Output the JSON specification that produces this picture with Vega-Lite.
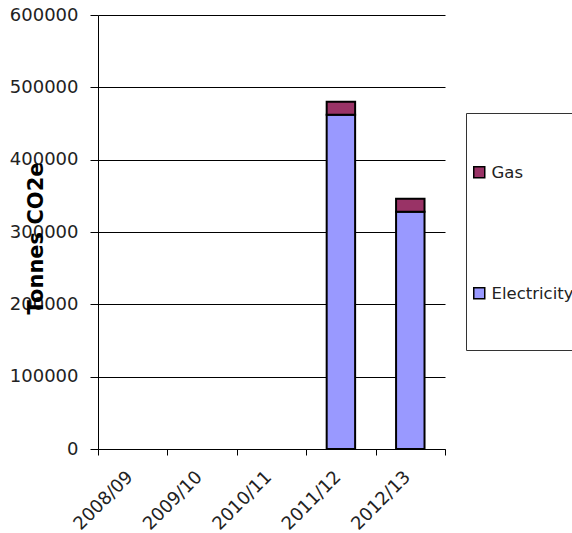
{
  "$schema": "https://vega.github.io/schema/vega-lite/v6.json",
  "autosize": {"type": "none"},
  "padding": {"left": 98, "top": 15, "right": 127, "bottom": 84},
  "width": 347,
  "height": 434,
  "background": "white",
  "config": {
    "view": {"stroke": null},
    "font": "DejaVu Sans"
  },
  "data": {
    "values": [
      {"year": "2011/12", "source": "Electricity", "tonnes": 462000},
      {"year": "2011/12", "source": "Gas", "tonnes": 18000},
      {"year": "2012/13", "source": "Electricity", "tonnes": 328000},
      {"year": "2012/13", "source": "Gas", "tonnes": 18000}
    ]
  },
  "mark": {"type": "bar", "width": {"band": 0.41}, "stroke": "black", "strokeWidth": 2},
  "encoding": {
    "x": {
      "field": "year",
      "type": "nominal",
      "scale": {"domain": ["2008/09", "2009/10", "2010/11", "2011/12", "2012/13"], "paddingInner": 0, "paddingOuter": 0},
      "axis": {
        "title": null,
        "tickBand": "extent",
        "domainColor": "black",
        "domainWidth": 1,
        "tickColor": "black",
        "tickSize": 6,
        "labelAngle": -45,
        "labelAlign": "right",
        "labelBaseline": "middle",
        "labelPadding": 19,
        "labelOffset": -3,
        "labelFont": "DejaVu Sans",
        "labelFontSize": 18,
        "labelColor": "#222"
      }
    },
    "y": {
      "field": "tonnes",
      "type": "quantitative",
      "stack": "zero",
      "scale": {"domain": [0, 600000], "nice": false},
      "axis": {
        "title": "Tonnes CO2e",
        "titleFont": "DejaVu Sans",
        "titleFontSize": 21,
        "titleFontWeight": "bold",
        "titleColor": "black",
        "titleAngle": -90,
        "titleX": -62,
        "titleY": 223,
        "titleAlign": "center",
        "titleBaseline": "middle",
        "values": [0, 100000, 200000, 300000, 400000, 500000, 600000],
        "format": "d",
        "grid": true,
        "gridColor": "black",
        "gridOpacity": 1,
        "gridWidth": 1,
        "domainColor": "black",
        "tickColor": "black",
        "tickSize": 8,
        "labelPadding": 12,
        "labelFont": "DejaVu Sans",
        "labelFontSize": 18,
        "labelColor": "#222"
      }
    },
    "color": {
      "field": "source",
      "type": "nominal",
      "scale": {"domain": ["Gas", "Electricity"], "range": ["#993366", "#9999FF"]},
      "legend": {
        "orient": "none",
        "legendX": 368,
        "legendY": 98,
        "title": " ",
        "titleFontSize": 10,
        "titlePadding": 36,
        "padding": 5,
        "strokeColor": "#333",
        "fillColor": "white",
        "symbolType": "square",
        "symbolSize": 121,
        "symbolStrokeColor": "black",
        "symbolStrokeWidth": 1.5,
        "symbolOpacity": 1,
        "labelFont": "DejaVu Sans",
        "labelFontSize": 16.5,
        "labelColor": "#222",
        "labelOffset": 4,
        "labelBaseline": "top",
        "labelExpr": "datum.label == 'Electricity' ? ['Electricity', '', '', ''] : datum.label",
        "rowPadding": 102,
        "encode": {
          "labels": {"update": {"dy": {"value": -7}, "lineHeight": {"value": 14}}}
        }
      }
    },
    "order": {"field": "source", "sort": "ascending"}
  }
}
